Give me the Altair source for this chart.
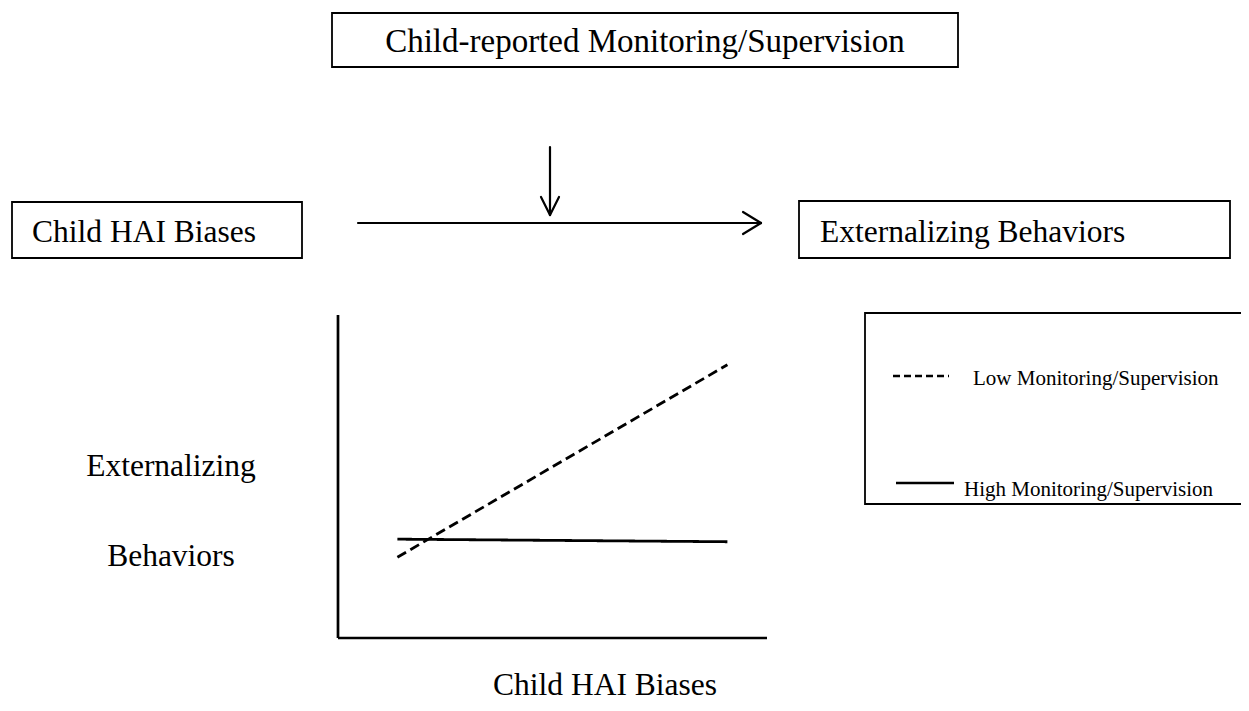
import altair as alt
import pandas as pd

# ---------------- chart values ----------------
hai_levels = [-1.0, 1.0]            # Child HAI biases: low (-1 SD) and high (+1 SD)
low_monitoring = [1.25, 4.23]       # externalizing at low monitoring/supervision
high_monitoring = [1.53, 1.49]      # externalizing at high monitoring/supervision
series_names = ["Low Monitoring/Supervision", "High Monitoring/Supervision"]
x_axis_extent = [-1.36, 1.24]
y_axis_extent = [0.0, 5.0]

moderator_label = "Child-reported Monitoring/Supervision"
predictor_label = "Child HAI Biases"
outcome_label = "Externalizing Behaviors"
y_title_lines = ["Externalizing", "Behaviors"]
x_title = "Child HAI Biases"

# ---------------- layout (page pixels) ----------------
M = 8
W, H = 1233, 695
FONT = "Liberation Serif"

px = alt.Scale(domain=[M, M + W], range=[0, W], nice=False, zero=False)
py = alt.Scale(domain=[M, M + H], range=[0, H], nice=False, zero=False)
plot_x = alt.Scale(domain=x_axis_extent, range=[338 - M, 767 - M], nice=False, zero=False)
plot_y = alt.Scale(domain=y_axis_extent, range=[638 - M, 315 - M], nice=False, zero=False)

# boxes of the path diagram
boxes = pd.DataFrame({
    "x": [332, 12, 799, 865],
    "x2": [958, 302, 1230, 1262],
    "y": [13, 202, 201, 313],
    "y2": [67, 258, 258, 504],
})
box_layer = alt.Chart(boxes).mark_rect(fill="white", stroke="black", strokeWidth=1.8).encode(
    x=alt.X("x:Q", scale=px, axis=None),
    x2="x2:Q",
    y=alt.Y("y:Q", scale=py, axis=None),
    y2="y2:Q",
)

# arrows (shaft + open heads)
arrows = pd.DataFrame({
    "x":  [358, 743, 743, 550, 541, 559],
    "y":  [223, 212, 234, 147, 197, 197],
    "x2": [761, 761, 761, 550, 550, 550],
    "y2": [223, 223, 223, 215, 215, 215],
})
arrow_layer = alt.Chart(arrows).mark_rule(color="black", strokeWidth=2.2, strokeCap="round").encode(
    x=alt.X("x:Q", scale=px, axis=None),
    y=alt.Y("y:Q", scale=py, axis=None),
    x2="x2:Q",
    y2="y2:Q",
)

# centred texts
texts_c = pd.DataFrame({
    "t": [moderator_label, y_title_lines[0], y_title_lines[1], x_title],
    "x": [645, 171, 171, 605],
    "y": [52, 476, 566, 695],
    "s": [33, 31.5, 31.5, 31.5],
})
text_c_layer = alt.Chart(texts_c).mark_text(
    font=FONT, align="center", baseline="alphabetic", color="black"
).encode(
    x=alt.X("x:Q", scale=px, axis=None),
    y=alt.Y("y:Q", scale=py, axis=None),
    text="t:N",
    size=alt.Size("s:Q", scale=None),
)

# left aligned texts (boxes and legend)
texts_l = pd.DataFrame({
    "t": [predictor_label, outcome_label, series_names[0], series_names[1]],
    "x": [32, 820, 973, 964],
    "y": [242, 242, 385, 496],
    "s": [31.5, 31.5, 21, 21],
})
text_l_layer = alt.Chart(texts_l).mark_text(
    font=FONT, align="left", baseline="alphabetic", color="black"
).encode(
    x=alt.X("x:Q", scale=px, axis=None),
    y=alt.Y("y:Q", scale=py, axis=None),
    text="t:N",
    size=alt.Size("s:Q", scale=None),
)

# legend samples
leg = pd.DataFrame({
    "series": series_names,
    "x": [893, 896], "x2": [949, 954],
    "y": [376, 483],
})
dash_scale = alt.Scale(domain=series_names, range=[[7, 4], [1, 0]])
leg_layer = alt.Chart(leg).mark_rule(color="black", strokeWidth=2.6).encode(
    x=alt.X("x:Q", scale=px, axis=None),
    x2="x2:Q",
    y=alt.Y("y:Q", scale=py, axis=None),
    strokeDash=alt.StrokeDash("series:N", scale=dash_scale, legend=None),
)

# interaction plot: axes
axes = pd.DataFrame({
    "x": [x_axis_extent[0], x_axis_extent[0]],
    "x2": [x_axis_extent[0], x_axis_extent[1]],
    "y": [y_axis_extent[1], y_axis_extent[0]],
    "y2": [y_axis_extent[0], y_axis_extent[0]],
})
axes_layer = alt.Chart(axes).mark_rule(color="black", strokeWidth=2.7).encode(
    x=alt.X("x:Q", scale=plot_x, axis=None),
    x2="x2:Q",
    y=alt.Y("y:Q", scale=plot_y, axis=None),
    y2="y2:Q",
)

# interaction plot: simple slopes
lines = pd.DataFrame({
    "hai": hai_levels + hai_levels,
    "ext": low_monitoring + high_monitoring,
    "series": [series_names[0]] * 2 + [series_names[1]] * 2,
})
line_dash = alt.Scale(domain=series_names, range=[[10, 5], [1, 0]])
line_layer = alt.Chart(lines).mark_line(color="black", strokeWidth=2.8).encode(
    x=alt.X("hai:Q", scale=plot_x, axis=None),
    y=alt.Y("ext:Q", scale=plot_y, axis=None),
    strokeDash=alt.StrokeDash("series:N", scale=line_dash, legend=None),
    detail="series:N",
)

chart = alt.layer(
    box_layer, arrow_layer, text_c_layer, text_l_layer, leg_layer, axes_layer, line_layer
).resolve_scale(
    x="independent", y="independent", strokeDash="independent"
).properties(
    width=W, height=H, padding=0,
    autosize=alt.AutoSizeParams(type="none"),
    background="white",
).configure_view(strokeWidth=0)

chart.save("out.html", embed_options={"renderer": "svg", "actions": False})
